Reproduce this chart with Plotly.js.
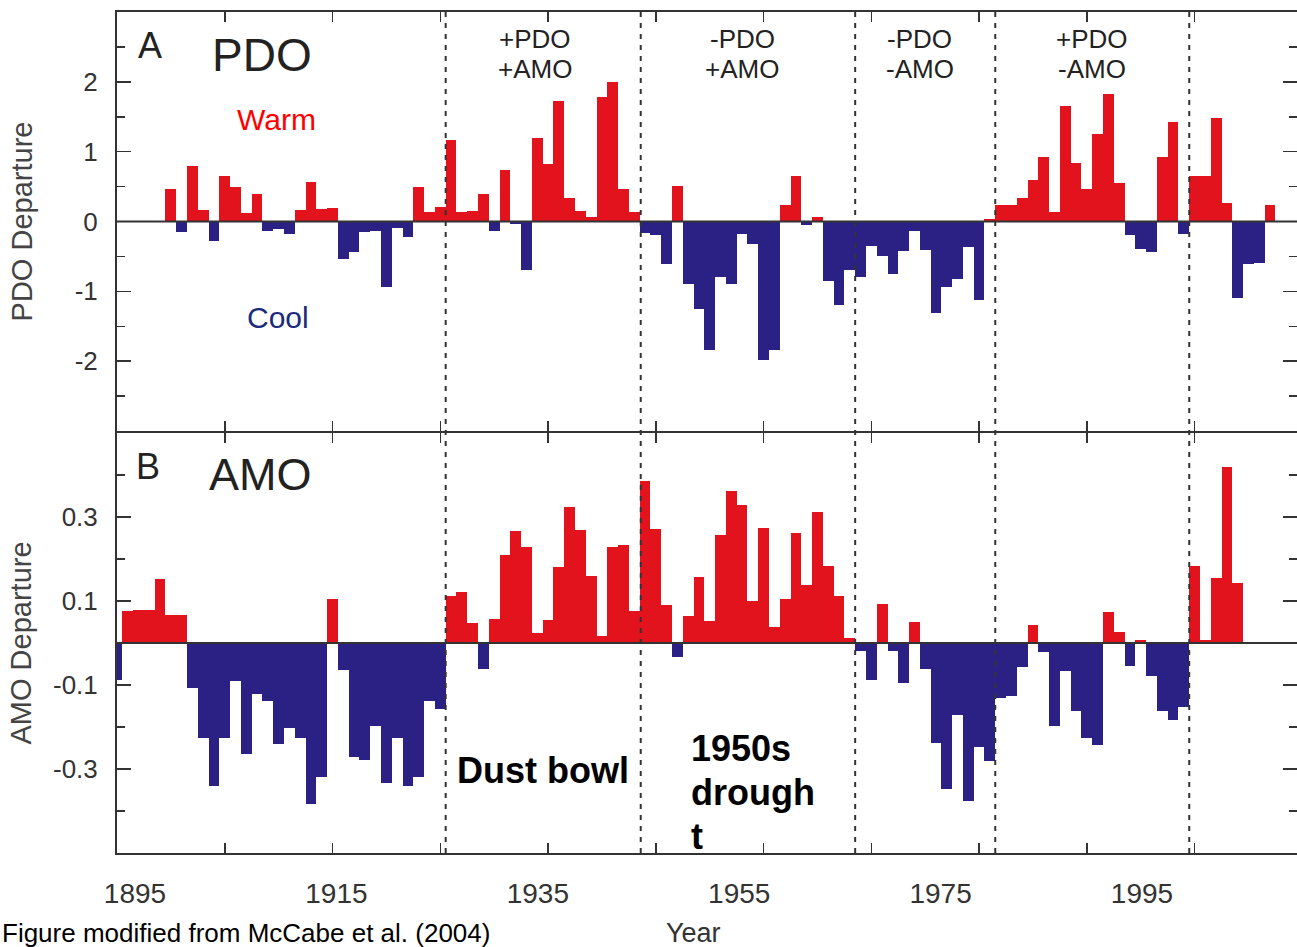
<!DOCTYPE html>
<html><head><meta charset="utf-8">
<script src="https://cdn.plot.ly/plotly-3.0.1.min.js"></script>
<style>html,body{margin:0;padding:0;background:#fff;overflow:hidden}</style>
</head><body><div id="chart" style="width:1297px;height:947px"></div>
<script>
// ---- data ----
const pdoYears = [1900,1901,1902,1903,1904,1905,1906,1907,1908,1909,1910,1911,1912,1913,1914,1915,1916,1917,1918,1919,
1920,1921,1922,1923,1924,1925,1926,1927,1928,1929,1930,1931,1932,1933,1934,1935,1936,1937,1938,1939,
1940,1941,1942,1943,1944,1945,1946,1947,1948,1949,1950,1951,1952,1953,1954,1955,1956,1957,1958,1959,
1960,1961,1962,1963,1964,1965,1966,1967,1968,1969,1970,1971,1972,1973,1974,1975,1976,1977,1978,1979,
1980,1981,1982,1983,1984,1985,1986,1987,1988,1989,1990,1991,1992,1993,1994,1995,1996,1997,1998,1999,
2000,2001,2002];
const pdoValues = [0.46,-0.15,0.79,0.17,-0.28,0.65,0.50,0.12,0.39,-0.13,-0.11,-0.18,0.16,0.57,0.18,0.19,-0.53,-0.44,-0.15,-0.13,
-0.94,-0.10,-0.22,0.50,0.13,0.21,1.17,0.14,0.15,0.40,-0.13,0.74,-0.03,-0.70,1.20,0.82,1.73,0.33,0.15,0.07,
1.79,2.00,0.46,0.13,-0.16,-0.20,-0.61,0.51,-0.90,-1.25,-1.84,-0.80,-0.90,-0.18,-0.32,-1.98,-1.84,0.24,0.65,-0.05,
0.06,-0.85,-1.19,-0.70,-0.80,-0.35,-0.49,-0.75,-0.42,-0.13,-0.41,-1.31,-0.94,-0.82,-0.37,-1.12,0.03,0.24,0.24,0.34,
0.60,0.93,0.13,1.66,0.84,0.46,1.26,1.83,0.55,-0.20,-0.39,-0.44,0.93,1.43,-0.18,0.65,0.65,1.48,0.26,-1.09,
-0.61,-0.59,0.24];
const amoYears = [1895,1896,1897,1898,1899,1900,1901,1902,1903,1904,1905,1906,1907,1908,1909,1910,1911,1912,1913,1914,
1915,1916,1917,1918,1919,1920,1921,1922,1923,1924,1925,1926,1927,1928,1929,1930,1931,1932,1933,1934,
1935,1936,1937,1938,1939,1940,1941,1942,1943,1944,1945,1946,1947,1948,1949,1950,1951,1952,1953,1954,
1955,1956,1957,1958,1959,1960,1961,1962,1963,1964,1965,1966,1967,1968,1969,1970,1971,1972,1973,1974,
1975,1976,1977,1978,1979,1980,1981,1982,1983,1984,1985,1986,1987,1988,1989,1990,1991,1992,1993,1994,
1995,1996,1997,1998,1999];
const amoValues = [-0.087,0.077,0.079,0.079,0.153,0.066,0.066,-0.106,-0.225,-0.34,-0.225,-0.09,-0.264,-0.121,-0.137,-0.24,-0.203,-0.225,-0.383,-0.32,
0.105,-0.064,-0.272,-0.279,-0.198,-0.334,-0.226,-0.34,-0.32,-0.139,-0.157,0.111,0.121,0.047,-0.063,0.057,0.21,0.267,0.228,0.024,
0.054,0.18,0.325,0.27,0.159,0.016,0.228,0.233,0.077,0.386,0.271,0.09,-0.034,0.065,0.156,0.053,0.258,0.363,0.329,0.1,
0.275,0.037,0.105,0.262,0.138,0.313,0.184,0.113,0.013,-0.018,-0.087,0.093,-0.02,-0.095,0.051,-0.063,-0.238,-0.347,-0.172,-0.375,
-0.248,-0.281,-0.132,-0.125,-0.058,0.044,-0.021,-0.197,-0.066,-0.163,-0.225,-0.243,0.075,0.027,-0.054,0.006,-0.078,-0.163,-0.183,-0.153,
0.184,0.008,0.154,0.42,0.144];
const regimeBreaks = [1925.5, 1943.6, 1963.5, 1976.5, 1994.5];
const regimeCenters = [1933.8, 1953.0, 1969.5, 1985.5];
const regimePDO = ['+PDO','-PDO','-PDO','+PDO'];
const regimeAMO = ['+AMO','+AMO','-AMO','-AMO'];
const xTickVals = [1895,1905,1915,1925,1935,1945,1955,1965,1975,1985,1995,2005];
const xLabelVals = [1895,1915,1935,1955,1975,1995];
const xLabelText = ['1895','1915','1935','1955','1975','1995'];
const pdoTickVals = [-2,-1,0,1,2];
const pdoTickText = ['-2','-1','0','1','2'];
const pdoMinorVals = [-2.5,-1.5,-0.5,0.5,1.5,2.5];
const amoTickVals = [-0.3,-0.1,0.1,0.3];
const amoTickText = ['-0.3','-0.1','0.1','0.3'];
const amoMinorVals = [-0.4,-0.2,0.2,0.4];

// ---- styling ----
const WARM = '#e3131e', COOL = '#2b2185', INK = '#333333';
const FONT = 'Liberation Sans, Arial, sans-serif';
const L = 117, T = 12, W = 1297, H = 947, PB = 853;
const PX = x => (x - L) / (W - L);
const PY = y => (PB - y) / (PB - T);

const traces = [
  {type:'bar', x:pdoYears, y:pdoValues, xaxis:'x', yaxis:'y', width:1,
   marker:{color:pdoValues.map(v => v >= 0 ? WARM : COOL), line:{width:0}}, hoverinfo:'x+y', showlegend:false},
  {type:'bar', x:amoYears, y:amoValues, xaxis:'x2', yaxis:'y2', width:1,
   marker:{color:amoValues.map(v => v >= 0 ? WARM : COOL), line:{width:0}}, hoverinfo:'x+y', showlegend:false},
  {type:'scatter', x:[], y:[], xaxis:'x3', yaxis:'y2', showlegend:false, hoverinfo:'skip'}
];

const xCommon = {range:[1895, 2004.5], tickmode:'array', tickvals:xTickVals, showticklabels:false,
  ticks:'inside', ticklen:10, tickwidth:1.5, tickcolor:INK, showline:true, linecolor:INK, linewidth:2,
  mirror:'ticks', showgrid:false, zeroline:false};
const yCommon = {ticks:'inside', ticklen:14, tickwidth:1.5, tickcolor:INK, showline:true, linecolor:INK,
  linewidth:2, mirror:'ticks', showgrid:false, zeroline:false, tickfont:{family:FONT, size:26, color:INK},
  ticklabelstandoff:12, tickmode:'array'};

const shapes = [
  {type:'line', xref:'x domain', yref:'y', x0:0, x1:1, y0:0, y1:0, line:{color:INK, width:2}, layer:'above'},
  {type:'line', xref:'x2 domain', yref:'y2', x0:0, x1:1, y0:0, y1:0, line:{color:INK, width:2}, layer:'above'}
].concat(regimeBreaks.map(b => ({type:'line', xref:'x', yref:'paper', x0:b, x1:b, y0:0, y1:1,
  line:{color:INK, width:2, dash:'5px,6px'}, layer:'above'})));

const ann = (text, x, y, size, opts) => Object.assign({text, xref:'paper', yref:'paper', x:PX(x), y:PY(y),
  showarrow:false, xanchor:'center', yanchor:'middle', borderpad:0, font:{family:FONT, size, color:'#222'}}, opts || {});
const bold = (text, x, y) => ann('<b>' + text + '</b>', x, y, 36, {xanchor:'left', font:{family:FONT, size:36, color:'#000'}});

const annotations = [
  ann('A', 150, 45, 36),
  ann('PDO', 262, 55, 46),
  ann('Warm', 276, 120, 30, {font:{family:FONT, size:30, color:'#ff0000'}}),
  ann('Cool', 278, 317, 30, {font:{family:FONT, size:30, color:'#1b2a7c'}}),
  ann('B', 148, 466, 36),
  ann('AMO', 260, 475, 45),
  bold('Dust bowl', 456, 770),
  bold('1950s', 690, 748),
  bold('drough', 690, 792),
  bold('t', 690, 836),
  ann('Year', 693, 933, 27, {font:{family:FONT, size:27, color:INK}}),
  ann('Figure modified from McCabe et al. (2004)', 1, 933, 26, {xanchor:'left', font:{family:FONT, size:26, color:'#000'}})
];
regimeCenters.forEach((c, i) => {
  annotations.push({text:regimePDO[i], xref:'x', yref:'paper', x:c, y:PY(39), showarrow:false, borderpad:0,
    xanchor:'center', yanchor:'middle', font:{family:FONT, size:26, color:'#222'}});
  annotations.push({text:regimeAMO[i], xref:'x', yref:'paper', x:c, y:PY(69), showarrow:false, borderpad:0,
    xanchor:'center', yanchor:'middle', font:{family:FONT, size:26, color:'#222'}});
});

// label axis: the reference's year labels sit on a slightly different scale than its ticks
const labScale = (1142 - 135) / 100;
const lab0 = 1895 - (135 - L) / labScale;
const lab1 = lab0 + (W - L) / labScale;

const layout = {
  width:W, height:H, margin:{l:L, r:0, t:T, b:H - PB},
  paper_bgcolor:'#ffffff', plot_bgcolor:'#ffffff', bargap:0, showlegend:false,
  font:{family:FONT, color:INK},
  xaxis:Object.assign({}, xCommon, {domain:[0,1], anchor:'y'}),
  xaxis2:Object.assign({}, xCommon, {domain:[0,1], anchor:'y2', matches:'x'}),
  xaxis3:{overlaying:'x2', anchor:'y2', side:'bottom', range:[lab0, lab1], tickmode:'array',
    tickvals:xLabelVals, ticktext:xLabelText, ticks:'', showline:false, showgrid:false, zeroline:false,
    tickfont:{family:FONT, size:28, color:INK}, ticklabelstandoff:21},
  yaxis:Object.assign({}, yCommon, {domain:[(PB - 431) / (PB - T), 1], anchor:'x', range:[-3,3],
    tickvals:pdoTickVals, ticktext:pdoTickText,
    minor:{tickmode:'array', tickvals:pdoMinorVals, ticks:'inside', ticklen:8, tickwidth:1.5, tickcolor:INK},
    title:{text:'PDO Departure', font:{family:FONT, size:29, color:'#444'}, standoff:34}}),
  yaxis2:Object.assign({}, yCommon, {domain:[0, (PB - 433) / (PB - T)], anchor:'x2', range:[-0.5,0.5],
    tickvals:amoTickVals, ticktext:amoTickText,
    minor:{tickmode:'array', tickvals:amoMinorVals, ticks:'inside', ticklen:8, tickwidth:1.5, tickcolor:INK},
    title:{text:'AMO Departure', font:{family:FONT, size:29, color:'#444'}, standoff:13}}),
  shapes, annotations
};

Plotly.newPlot('chart', traces, layout, {displayModeBar:false, staticPlot:true});
</script></body></html>
